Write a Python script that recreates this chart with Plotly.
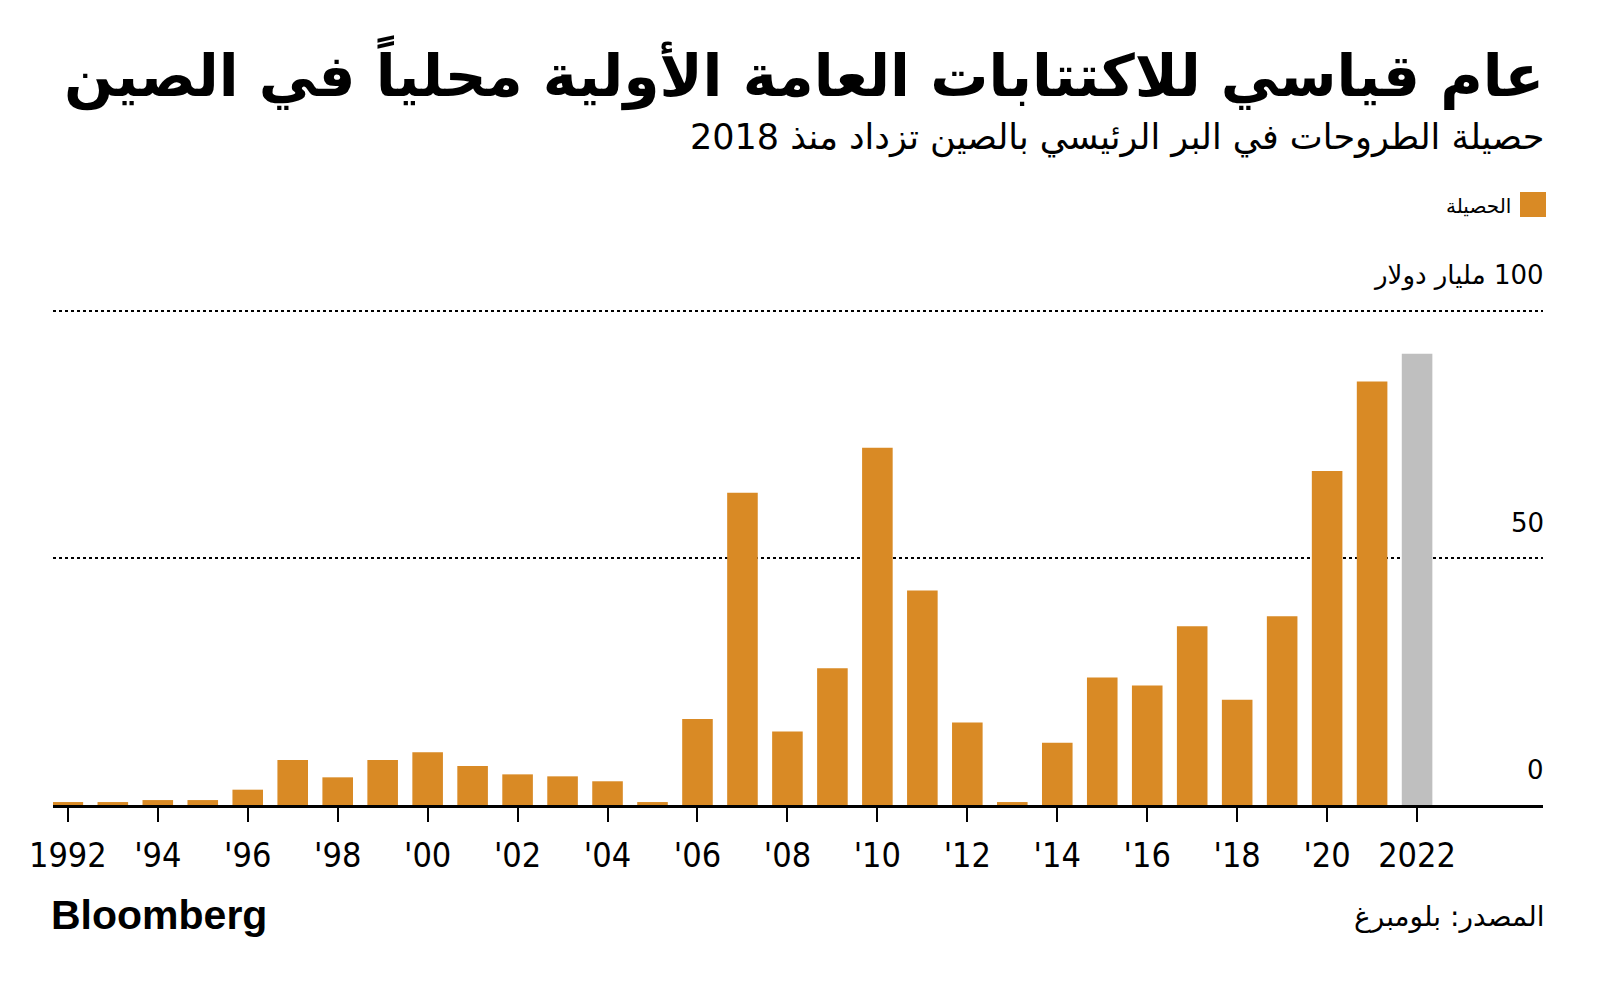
import plotly.graph_objects as go

years = list(range(1992, 2023))
proceeds = [0.6, 0.6, 1.0, 1.0, 3.1, 9.1, 5.6, 9.1, 10.7, 7.9, 6.2, 5.8, 4.8, 0.6,
            17.4, 63.2, 14.9, 27.7, 72.3, 43.4, 16.7, 0.6, 12.6, 25.8, 24.2, 36.2,
            21.3, 38.2, 67.6, 85.7, 91.3]
tick_years = list(range(1992, 2023, 2))
tick_labels = ["1992"] + ["'" + str(y)[2:] for y in range(1994, 2022, 2)] + ["2022"]
y_ticks = [0, 50, 100]
y_labels = ["0", "50", "\u200f100 مليار دولار"]

title = "عام قياسي للاكتتابات العامة الأولية محلياً في الصين"
subtitle = "حصيلة الطروحات في البر الرئيسي بالصين تزداد منذ 2018"
legend_label = "الحصيلة"
source = "المصدر: بلومبرغ"

ORANGE = "#d98a25"
GRAY = "#bfbfbf"
colors = [ORANGE] * (len(years) - 1) + [GRAY]

AR_FONT = "DejaVu Sans"
NUM_FONT = "DejaVu Sans Condensed, Liberation Sans Narrow, Liberation Sans, sans-serif"
TOP = 301

fig = go.Figure()
fig.add_trace(go.Bar(x=years, y=proceeds, marker=dict(color=colors, line=dict(width=0)),
                     width=0.68, showlegend=False, hoverinfo="x+y"))

fig.update_layout(
    width=1600, height=993,
    margin=dict(l=53, r=57, t=TOP, b=188),
    paper_bgcolor="white", plot_bgcolor="white",
    xaxis=dict(
        range=[1991.67, 2024.8],
        tickmode="array", tickvals=tick_years, ticktext=tick_labels,
        ticks="outside", ticklen=14, tickwidth=2, tickcolor="black",
        showline=True, linecolor="black", linewidth=3,
        showgrid=False, zeroline=False,
        tickfont=dict(family=NUM_FONT, size=34, color="black"),
        ticklabelstandoff=4,
    ),
    yaxis=dict(
        range=[0, 102], side="right",
        tickmode="array", tickvals=y_ticks, ticktext=[""] * len(y_ticks),
        showgrid=True, gridcolor="black", gridwidth=2, griddash="dot",
        zeroline=False, showline=False, ticks="", showticklabels=False,
    ),
)

# y-axis labels placed above their gridlines, positioned on the y scale
for v, lab in zip(y_ticks, y_labels):
    fig.add_annotation(xref="paper", yref="y", x=1.0, y=v, xanchor="right", yanchor="middle",
                       text=lab, showarrow=False, xshift=3, yshift=35,
                       font=dict(family=AR_FONT, size=26, color="black"))

fig.add_annotation(xref="paper", yref="paper", x=1.0, y=1.0, xanchor="right", yanchor="middle",
                   text=title, showarrow=False, xshift=3, yshift=TOP - 73,
                   font=dict(family=AR_FONT, size=58, color="black", weight="bold"))
fig.add_annotation(xref="paper", yref="paper", x=1.0, y=1.0, xanchor="right", yanchor="middle",
                   text=subtitle, showarrow=False, xshift=3, yshift=TOP - 137,
                   font=dict(family=AR_FONT, size=35, color="black"))
fig.add_shape(type="rect", xref="paper", yref="paper",
              xsizemode="pixel", ysizemode="pixel", xanchor=1.0, yanchor=1.0,
              x0=-23, x1=3, y0=TOP - 192, y1=TOP - 217,
              fillcolor=ORANGE, line=dict(width=0))
fig.add_annotation(xref="paper", yref="paper", x=1.0, y=1.0, xanchor="right", yanchor="middle",
                   text=legend_label, showarrow=False, xshift=-30, yshift=TOP - 206,
                   font=dict(family=AR_FONT, size=20, color="black"))
fig.add_annotation(xref="paper", yref="paper", x=1.0, y=0.0, xanchor="right", yanchor="middle",
                   text=source, showarrow=False, xshift=3, yshift=-(916 - 805),
                   font=dict(family=AR_FONT, size=28, color="black"))
fig.add_annotation(xref="paper", yref="paper", x=0.0, y=0.0, xanchor="left", yanchor="middle",
                   text="Bloomberg", showarrow=False, xshift=-4, yshift=-(915 - 805),
                   font=dict(family="Liberation Sans, Arial, sans-serif", size=41, color="black", weight="bold"))

fig.write_html("out.html", config={"displayModeBar": False},
               post_script="document.body.style.margin='0';")
